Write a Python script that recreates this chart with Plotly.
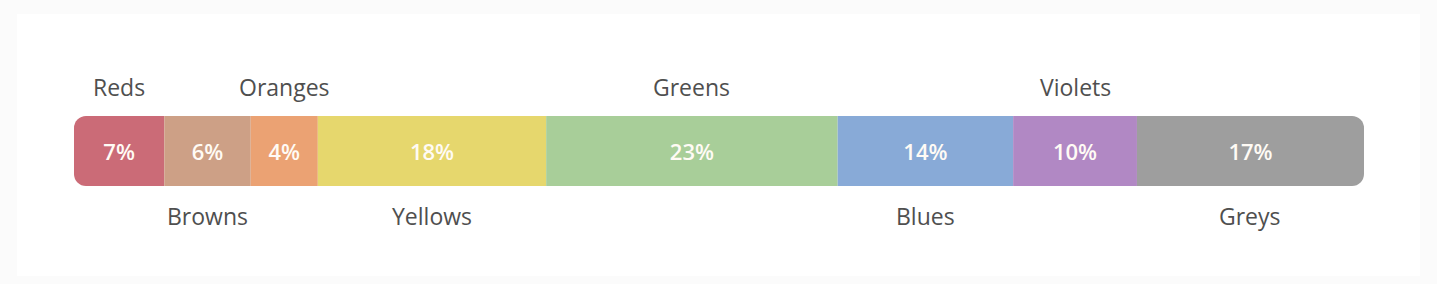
import plotly.graph_objects as go

# Data
categories = ["Reds", "Browns", "Oranges", "Yellows", "Greens", "Blues", "Violets", "Greys"]
shares = [7.0, 6.7, 5.2, 17.7, 22.6, 13.6, 9.6, 17.6]          # drawn widths (share of bar)
pct_labels = ["7%", "6%", "4%", "18%", "23%", "14%", "10%", "17%"]
label_side = ["top", "bottom", "top", "bottom", "top", "bottom", "top", "bottom"]
colors = ["#CB6B77", "#CDA086", "#EBA273", "#E6D76D", "#A8CE99", "#88AAD7", "#B188C4", "#9E9E9E"]

fig = go.Figure()
# first segment is stacked to the left of zero, the rest to the right,
# so both outer ends of the bar get rounded corners
offset = shares[0]
centers = []
acc = 0.0
for s in shares:
    centers.append(acc + s / 2 - offset)
    acc += s
total = acc

for i, (cat, s, lab, col) in enumerate(zip(categories, shares, pct_labels, colors)):
    xval = -s if i == 0 else s
    fig.add_trace(go.Bar(
        y=[0], x=[xval], orientation="h", width=1,
        marker=dict(color=col, line=dict(width=0)),
        text=[lab], textposition="inside", insidetextanchor="middle",
        textfont=dict(family="Open Sans", size=22, color="#FFFBF5", weight=600),
        hoverinfo="skip", showlegend=False, name=cat,
    ))

annotations = []
for cat, cx, side in zip(categories, centers, label_side):
    top = side == "top"
    annotations.append(dict(x=cx, xref="x", y=1 if top else 0, yref="paper",
                            yanchor="middle", yshift=29 if top else -30,
                            text=cat, showarrow=False,
                            font=dict(family="Open Sans", size=23, color="#4F4F4F")))

# faint white card behind the chart
W, H = 1437, 284
ml, mr, mt, mb = 74, 73, 116, 98
pw, ph = W - ml - mr, H - mt - mb
card = dict(type="rect", xref="paper", yref="paper", layer="below",
            x0=(17 - ml) / pw, x1=(1420 - ml) / pw,
            y0=-(276 - (H - mb)) / ph, y1=1 + (mt - 14) / ph,
            fillcolor="#FFFFFF", line=dict(width=0))

fig.update_layout(
    width=W, height=H,
    margin=dict(l=ml, r=mr, t=mt, b=mb),
    barmode="relative", barcornerradius=12,
    paper_bgcolor="#FBFBFB", plot_bgcolor="rgba(0,0,0,0)",
    xaxis=dict(range=[-offset, total - offset], visible=False, fixedrange=True),
    yaxis=dict(range=[-0.5, 0.5], visible=False, fixedrange=True),
    annotations=annotations,
    shapes=[card],
)

fig.write_html("out.html", config={"displayModeBar": False})
